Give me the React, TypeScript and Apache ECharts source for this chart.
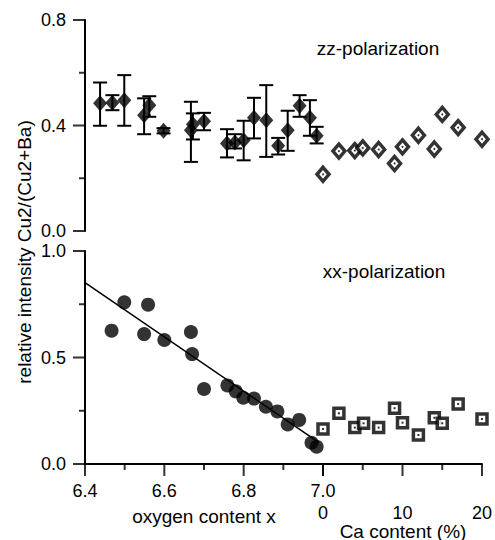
import React, { useEffect, useRef } from "react";
import * as echarts from "echarts";

// ---- data ----
// zz-polarization, oxygen series (filled diamonds with error bars)
const zzOxX = [6.438, 6.469, 6.499, 6.549, 6.562, 6.598, 6.667, 6.672, 6.700, 6.758, 6.778, 6.800, 6.826, 6.857, 6.887, 6.911, 6.941, 6.967, 6.984];
const zzOxY = [0.484, 0.486, 0.496, 0.439, 0.477, 0.380, 0.382, 0.405, 0.416, 0.332, 0.336, 0.344, 0.429, 0.420, 0.323, 0.382, 0.475, 0.429, 0.361];
const zzOxLow = [0.399, 0.458, 0.399, 0.367, 0.433, 0.370, 0.262, 0.347, 0.382, 0.279, 0.313, 0.268, 0.351, 0.281, 0.290, 0.304, 0.433, 0.361, 0.332];
const zzOxHigh = [0.563, 0.515, 0.591, 0.503, 0.511, 0.390, 0.490, 0.446, 0.448, 0.386, 0.367, 0.418, 0.505, 0.553, 0.353, 0.456, 0.515, 0.496, 0.395];
// zz-polarization, Ca series (open diamonds)
const zzCaX = [0, 2, 4, 5, 7, 9, 10, 12, 14, 15, 17, 20];
const zzCaY = [0.215, 0.303, 0.305, 0.315, 0.309, 0.256, 0.319, 0.363, 0.311, 0.442, 0.392, 0.348];
// xx-polarization, oxygen series (filled circles)
const xxOxX = [6.467, 6.499, 6.549, 6.559, 6.600, 6.667, 6.670, 6.700, 6.759, 6.780, 6.799, 6.826, 6.856, 6.885, 6.911, 6.940, 6.971, 6.984];
const xxOxY = [0.626, 0.759, 0.610, 0.748, 0.582, 0.620, 0.516, 0.352, 0.369, 0.341, 0.311, 0.307, 0.269, 0.247, 0.186, 0.207, 0.100, 0.081];
// xx-polarization, Ca series (open squares)
const xxCaX = [0, 2, 4, 5.1, 7, 9, 10, 12, 14, 15, 17, 20];
const xxCaY = [0.164, 0.238, 0.171, 0.191, 0.171, 0.262, 0.194, 0.136, 0.217, 0.191, 0.282, 0.211];
// linear fit through xx oxygen data
const fitX = [6.4, 6.99];
const fitY = [0.852, 0.1];

// axis ticks (major = labelled, minor = unlabelled)
const oxMajor = [6.4, 6.6, 6.8, 7.0];
const oxMinor = [6.5, 6.7, 6.9];
const caMajor = [0, 10, 20];
const caMinor = [5, 15];
const zzYMajor = [0, 0.4, 0.8];
const zzYMinor = [0.2, 0.6];
const xxYMajor = [0, 0.5, 1.0];
const xxYMinor = [0.25, 0.75];

const FONT = "Liberation Sans, Arial, Helvetica, sans-serif";
const MAJOR_LEN = 12;
const MINOR_LEN = 6;

const zip = (a: number[], b: number[]) => a.map((v, i) => [v, b[i]]);

export default function App() {
  const ref = useRef<HTMLDivElement>(null);
  useEffect(() => {
    if (!ref.current) return;
    const chart = echarts.init(ref.current, undefined, { renderer: "svg" });
    const axisLine = () => ({ show: true, onZero: false, lineStyle: { color: "#000", width: 2 } });
    const lbl = (extra: any) => ({
      color: "#000",
      fontSize: 18,
      fontFamily: FONT,
      ...extra,
    });
    const hiddenAxis = (min: number, max: number, gridIndex: number) => ({
      type: "value",
      gridIndex,
      min,
      max,
      show: false,
      splitLine: { show: false },
    });
    const textEl = (text: string, x: number, y: number, extra: any = {}) => ({
      type: "text",
      x,
      y,
      ...extra,
      style: { text, font: `19px ${FONT}`, fill: "#000", textAlign: "center", textVerticalAlign: "middle" },
    });

    // ticks drawn as thin rect symbols placed through the axes' own scales
    const xTick = (gi: number, vals: number[], len: number) => ({
      type: "scatter",
      xAxisIndex: gi,
      yAxisIndex: gi,
      clip: false,
      silent: true,
      symbol: "rect",
      symbolSize: [2, len],
      symbolOffset: [0, len / 2],
      itemStyle: { color: "#000" },
      data: vals.map((v) => [v, 0]),
      z: 6,
    });
    const yTick = (gi: number, base: number, vals: number[], len: number) => ({
      type: "scatter",
      xAxisIndex: gi,
      yAxisIndex: gi,
      clip: false,
      silent: true,
      symbol: "rect",
      symbolSize: [len, 2],
      symbolOffset: [-len / 2, 0],
      itemStyle: { color: "#000" },
      data: vals.map((v) => [base, v]),
      z: 6,
    });

    const option: any = {
      animation: false,
      grid: [
        { left: 85, top: 20, width: 238, height: 211 },
        { left: 323, top: 20, width: 159, height: 211 },
        { left: 85, top: 251, width: 238, height: 213 },
        { left: 323, top: 251, width: 159, height: 213 },
      ],
      xAxis: [
        hiddenAxis(6.4, 7.0, 0),
        hiddenAxis(0, 20, 1),
        {
          type: "value",
          gridIndex: 2,
          min: 6.4,
          max: 7.0,
          interval: 0.2,
          axisLine: axisLine(),
          axisTick: { show: false },
          splitLine: { show: false },
          axisLabel: lbl({ margin: 18, formatter: (v: number) => v.toFixed(1) }),
        },
        {
          type: "value",
          gridIndex: 3,
          min: 0,
          max: 20,
          interval: 10,
          axisLine: axisLine(),
          axisTick: { show: false },
          splitLine: { show: false },
          axisLabel: lbl({ margin: 40, formatter: (v: number) => String(v) }),
        },
      ],
      yAxis: [
        {
          type: "value",
          gridIndex: 0,
          min: 0,
          max: 0.8,
          interval: 0.4,
          axisLine: axisLine(),
          axisTick: { show: false },
          splitLine: { show: false },
          axisLabel: lbl({ margin: 19, formatter: (v: number) => v.toFixed(1) }),
        },
        hiddenAxis(0, 0.8, 1),
        {
          type: "value",
          gridIndex: 2,
          min: 0,
          max: 1.0,
          interval: 0.5,
          axisLine: axisLine(),
          axisTick: { show: false },
          splitLine: { show: false },
          axisLabel: lbl({ margin: 19, formatter: (v: number) => v.toFixed(1) }),
        },
        hiddenAxis(0, 1.0, 3),
      ],
      series: [
        {
          type: "custom",
          xAxisIndex: 0,
          yAxisIndex: 0,
          clip: false,
          data: zzOxX.map((x, i) => [x, zzOxY[i], zzOxLow[i], zzOxHigh[i]]),
          encode: { x: 0, y: [2, 3] },
          renderItem: (_params: any, api: any) => {
            const x = api.value(0);
            const pLo = api.coord([x, api.value(2)]);
            const pHi = api.coord([x, api.value(3)]);
            const w = 7;
            return {
              type: "group",
              children: [
                { type: "line", shape: { x1: pLo[0], y1: pLo[1], x2: pHi[0], y2: pHi[1] }, style: { stroke: "#000", lineWidth: 2 } },
                { type: "line", shape: { x1: pLo[0] - w, y1: pLo[1], x2: pLo[0] + w, y2: pLo[1] }, style: { stroke: "#000", lineWidth: 2 } },
                { type: "line", shape: { x1: pHi[0] - w, y1: pHi[1], x2: pHi[0] + w, y2: pHi[1] }, style: { stroke: "#000", lineWidth: 2 } },
              ],
            };
          },
          z: 2,
        },
        {
          type: "scatter",
          xAxisIndex: 0,
          yAxisIndex: 0,
          symbol: "diamond",
          symbolSize: [14, 16],
          itemStyle: { color: "#000" },
          data: zip(zzOxX, zzOxY),
          z: 3,
        },
        {
          type: "scatter",
          xAxisIndex: 1,
          yAxisIndex: 1,
          symbol: "diamond",
          symbolSize: [12, 14],
          clip: false,
          itemStyle: { color: "#fff", borderColor: "#000", borderWidth: 3.5 },
          data: zip(zzCaX, zzCaY),
          z: 3,
        },
        {
          type: "scatter",
          xAxisIndex: 1,
          yAxisIndex: 1,
          symbol: "circle",
          symbolSize: 2,
          clip: false,
          itemStyle: { color: "#000" },
          data: zip(zzCaX, zzCaY),
          z: 4,
        },
        {
          type: "line",
          xAxisIndex: 2,
          yAxisIndex: 2,
          showSymbol: false,
          symbol: "none",
          lineStyle: { color: "#000", width: 1.5 },
          data: zip(fitX, fitY),
          z: 2,
        },
        {
          type: "scatter",
          xAxisIndex: 2,
          yAxisIndex: 2,
          symbol: "circle",
          symbolSize: 14,
          itemStyle: { color: "#000" },
          data: zip(xxOxX, xxOxY),
          z: 3,
        },
        {
          type: "scatter",
          xAxisIndex: 3,
          yAxisIndex: 3,
          symbol: "rect",
          symbolSize: 10,
          clip: false,
          itemStyle: { color: "#fff", borderColor: "#000", borderWidth: 3.5 },
          data: zip(xxCaX, xxCaY),
          z: 3,
        },
        {
          type: "scatter",
          xAxisIndex: 3,
          yAxisIndex: 3,
          symbol: "rect",
          symbolSize: 2,
          clip: false,
          itemStyle: { color: "#000" },
          data: zip(xxCaX, xxCaY),
          z: 4,
        },
        yTick(0, 6.4, zzYMajor, MAJOR_LEN),
        yTick(0, 6.4, zzYMinor, MINOR_LEN),
        yTick(2, 6.4, xxYMajor, MAJOR_LEN),
        yTick(2, 6.4, xxYMinor, MINOR_LEN),
        xTick(2, oxMajor, MAJOR_LEN),
        xTick(2, oxMinor, MINOR_LEN),
        xTick(3, caMajor, MAJOR_LEN),
        xTick(3, caMinor, MINOR_LEN),
      ],
      graphic: [
        textEl("relative intensity Cu2/(Cu2+Ba)", 24, 252, { rotation: Math.PI / 2 }),
        textEl("zz-polarization", 378, 48),
        textEl("xx-polarization", 384, 271),
        textEl("oxygen content x", 204, 516),
        textEl("Ca content (%)", 403, 531),
      ],
    };
    chart.setOption(option);
    return () => chart.dispose();
  }, []);
  return <div ref={ref} style={{ width: 495, height: 540, position: "absolute", left: 0, top: 0 }} />;
}
